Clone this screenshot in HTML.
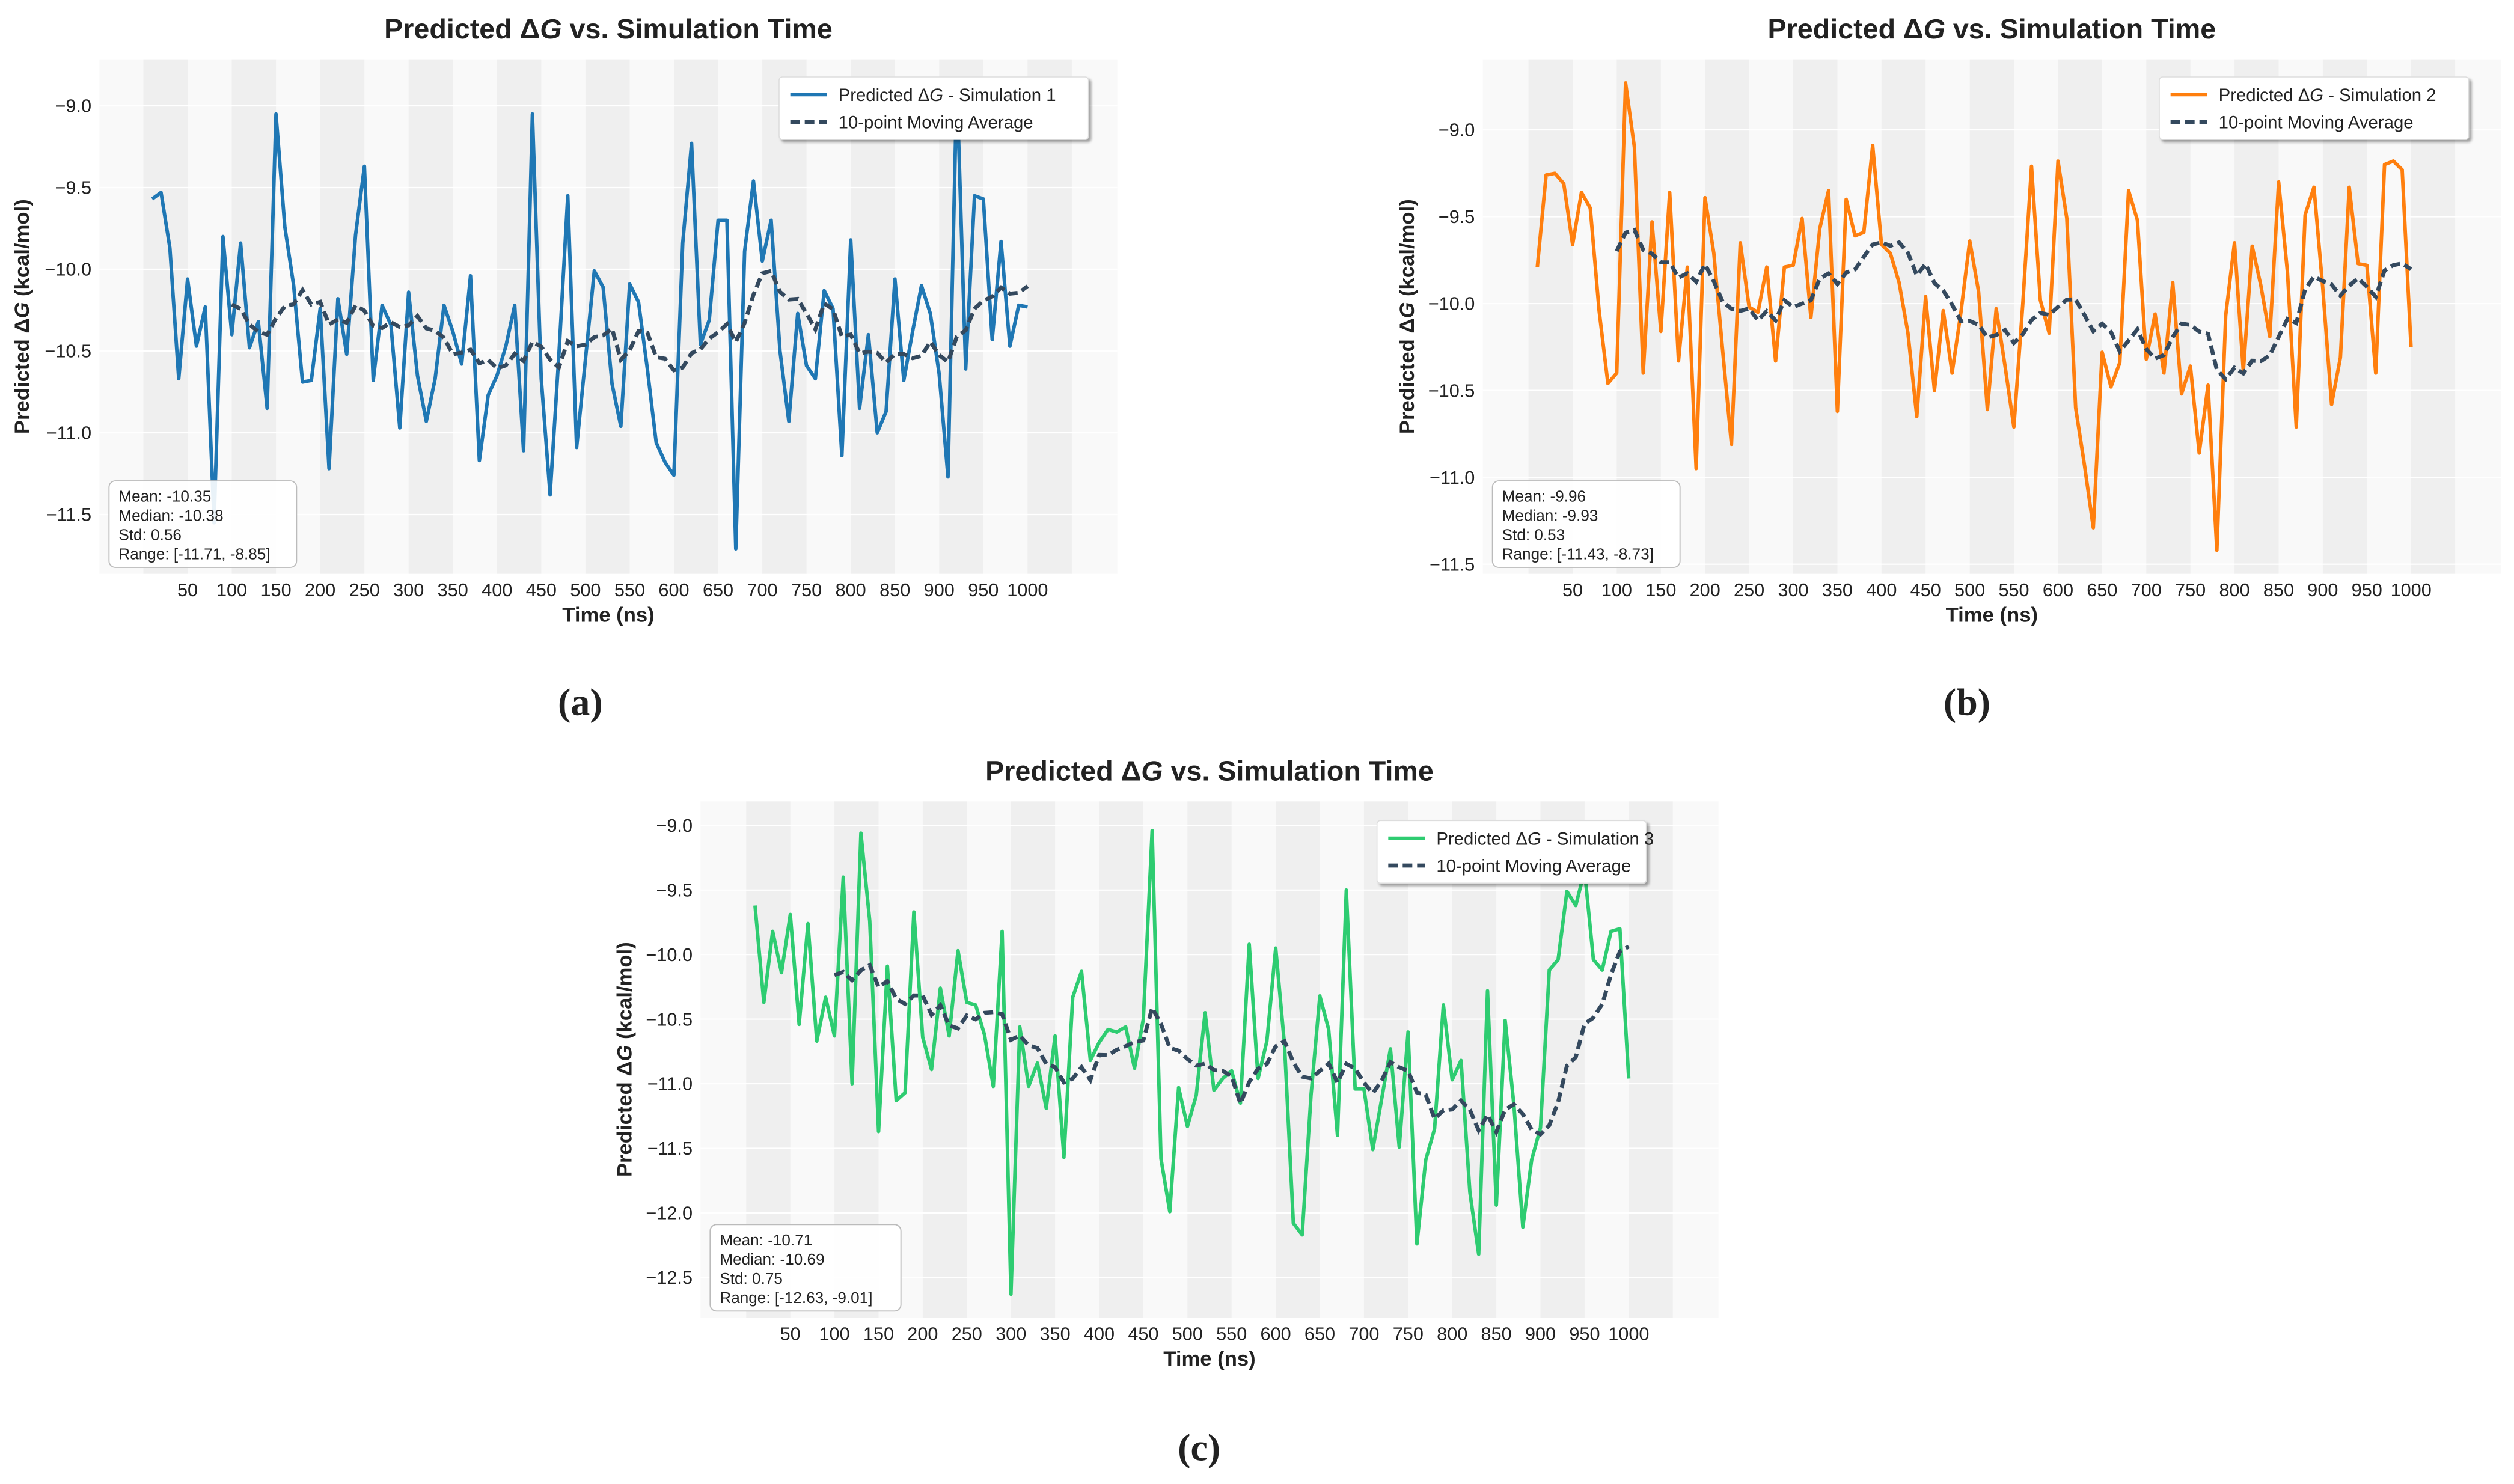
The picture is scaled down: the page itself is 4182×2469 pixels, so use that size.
<!DOCTYPE html>
<html><head><meta charset="utf-8"><style>
html,body{margin:0;padding:0;background:#fff;}
svg{display:block;}
text{font-family:"Liberation Sans",sans-serif;fill:#222;}
</style></head><body>
<svg id="fig" width="4182" height="2469" viewBox="0 0 1568.25 925.875" xmlns="http://www.w3.org/2000/svg">
<defs><filter id="sh" x="-10%" y="-10%" width="130%" height="140%"><feDropShadow dx="1.5" dy="1.5" stdDeviation="0.8" flood-color="#000" flood-opacity="0.35"/></filter></defs>
<text x="362" y="446" font-size="24" font-weight="bold" text-anchor="middle" style="font-family:'Liberation Serif',serif">(a)</text>
<text x="1227" y="446" font-size="24" font-weight="bold" text-anchor="middle" style="font-family:'Liberation Serif',serif">(b)</text>
<text x="748" y="911" font-size="24" font-weight="bold" text-anchor="middle" style="font-family:'Liberation Serif',serif">(c)</text>
</svg>
<script>
const times = [];
for (let i = 1; i <= 100; i++) times.push(i * 10);
const xTickValues = [50,100,150,200,250,300,350,400,450,500,550,600,650,700,750,800,850,900,950,1000];
const sim1 = [-9.57,-9.53,-9.87,-10.67,-10.06,-10.47,-10.23,-11.55,-9.80,-10.40,-9.84,-10.48,-10.32,-10.85,-9.05,-9.74,-10.10,-10.69,-10.68,-10.24,-11.22,-10.18,-10.52,-9.79,-9.37,-10.68,-10.22,-10.34,-10.97,-10.14,-10.65,-10.93,-10.67,-10.22,-10.38,-10.58,-10.04,-11.17,-10.77,-10.65,-10.47,-10.22,-11.11,-9.05,-10.67,-11.38,-10.52,-9.55,-11.09,-10.55,-10.01,-10.11,-10.70,-10.96,-10.09,-10.20,-10.61,-11.06,-11.18,-11.26,-9.84,-9.23,-10.46,-10.31,-9.70,-9.70,-11.71,-9.89,-9.46,-9.95,-9.70,-10.50,-10.93,-10.27,-10.59,-10.67,-10.13,-10.24,-11.14,-9.82,-10.85,-10.40,-11.00,-10.87,-10.06,-10.68,-10.38,-10.10,-10.27,-10.64,-11.27,-8.85,-10.61,-9.55,-9.57,-10.43,-9.83,-10.47,-10.22,-10.23];
const sim2 = [-9.79,-9.26,-9.25,-9.31,-9.66,-9.36,-9.45,-10.04,-10.46,-10.40,-8.73,-9.10,-10.40,-9.53,-10.16,-9.36,-10.33,-9.79,-10.95,-9.39,-9.71,-10.27,-10.81,-9.65,-10.02,-10.05,-9.79,-10.33,-9.79,-9.78,-9.51,-10.08,-9.57,-9.35,-10.62,-9.40,-9.61,-9.59,-9.09,-9.66,-9.71,-9.88,-10.17,-10.65,-9.96,-10.50,-10.04,-10.40,-10.05,-9.64,-9.93,-10.61,-10.03,-10.36,-10.71,-10.01,-9.21,-9.98,-10.17,-9.18,-9.51,-10.60,-10.93,-11.29,-10.28,-10.48,-10.34,-9.35,-9.52,-10.32,-10.06,-10.40,-9.88,-10.52,-10.36,-10.86,-10.47,-11.42,-10.07,-9.65,-10.39,-9.67,-9.90,-10.19,-9.30,-9.82,-10.71,-9.49,-9.33,-9.91,-10.58,-10.31,-9.33,-9.77,-9.78,-10.40,-9.20,-9.18,-9.23,-10.25];
const sim3 = [-9.62,-10.37,-9.82,-10.14,-9.69,-10.54,-9.76,-10.67,-10.33,-10.63,-9.40,-11.00,-9.06,-9.74,-11.37,-10.09,-11.13,-11.07,-9.67,-10.64,-10.89,-10.26,-10.63,-9.97,-10.37,-10.39,-10.62,-11.02,-9.82,-12.63,-10.56,-11.02,-10.84,-11.19,-10.63,-11.57,-10.33,-10.13,-10.82,-10.68,-10.58,-10.60,-10.56,-10.88,-10.50,-9.04,-11.58,-11.99,-11.03,-11.33,-11.09,-10.45,-11.05,-10.96,-10.90,-11.15,-9.92,-10.96,-10.67,-9.95,-10.70,-12.08,-12.17,-11.09,-10.32,-10.58,-11.40,-9.50,-11.04,-11.04,-11.51,-11.12,-10.73,-11.49,-10.60,-12.24,-11.59,-11.35,-10.39,-10.97,-10.82,-11.84,-12.32,-10.28,-11.94,-10.51,-11.17,-12.11,-11.59,-11.34,-10.12,-10.04,-9.51,-9.62,-9.35,-10.04,-10.12,-9.82,-9.80,-10.96];
const yTicks1 = [-9.0,-9.5,-10.0,-10.5,-11.0,-11.5];
const yTicks2 = [-9.0,-9.5,-10.0,-10.5,-11.0,-11.5];
const yTicks3 = [-9.0,-9.5,-10.0,-10.5,-11.0,-11.5,-12.0,-12.5];
const stats1 = ["Mean: -10.35","Median: -10.38","Std: 0.56","Range: [-11.71, -8.85]"];
const stats2 = ["Mean: -9.96","Median: -9.93","Std: 0.53","Range: [-11.43, -8.73]"];
const stats3 = ["Mean: -10.71","Median: -10.69","Std: 0.75","Range: [-12.63, -9.01]"];

const NS = "http://www.w3.org/2000/svg";
const svg = document.getElementById('fig');
function mk(tag, attrs, parent) {
  const e = document.createElementNS(NS, tag);
  for (const k in attrs) e.setAttribute(k, attrs[k]);
  (parent || svg).appendChild(e);
  return e;
}
function movingAvg(arr, w) {
  const out = [];
  for (let i = w - 1; i < arr.length; i++) {
    let s = 0; for (let j = i - w + 1; j <= i; j++) s += arr[j];
    out.push({i: i, v: s / w});
  }
  return out;
}
function drawPanel(c) {
  const g = mk('g', {});
  
  
  const xs = v => c.x50 + (v - 50) * (c.x1000 - c.x50) / 950;
  const ys = v => c.yA + (c.vA - v) * (c.yB - c.yA) / (c.vA - c.vB);
  const bg = mk('rect', {x: c.L, y: c.T, width: c.R - c.L, height: c.B - c.T, fill: '#f9f9f9'}, g);
  
  
  for (let b = 0; b <= 1000; b += 100) {
    const r = mk('rect', {x: xs(b), y: c.T, width: xs(b + 50) - xs(b), height: c.B - c.T, fill: '#efefef'}, g);
    
    
  }
  c.yTicks.forEach(v => {
    const y = ys(v);
    const gl = mk('line', {x1: c.L, x2: c.R, y1: y, y2: y, stroke: '#fff', 'stroke-width': 0.8}, g);
    
    
    const t = mk('text', {x: c.L - 5, y: y + 4, 'font-size': 11.5, 'text-anchor': 'end'}, g);
    t.textContent = v.toFixed(1).replace('-', '\u2212');
    
    
  });
  xTickValues.forEach(v => {
    const t = mk('text', {x: xs(v), y: c.B + 14, 'font-size': 11.5, 'text-anchor': 'middle'}, g);
    t.textContent = String(v);
    
    
  });
  const pts = c.data.map((v, i) => xs(times[i]).toFixed(2) + ',' + ys(v).toFixed(2)).join(' ');
  const line = mk('polyline', {points: pts, fill: 'none', stroke: c.color, 'stroke-width': 2.2, 'stroke-linejoin': 'round'}, g);
  
  
  const ma = movingAvg(c.data, 10);
  const mpts = ma.map(p => xs(times[p.i]).toFixed(2) + ',' + ys(p.v).toFixed(2)).join(' ');
  const mline = mk('polyline', {points: mpts, fill: 'none', stroke: '#34495e', 'stroke-width': 2.5, 'stroke-dasharray': '6,3'}, g);
  
  
  const cx = (c.L + c.R) / 2;
  const title = mk('text', {x: cx, y: c.T - 13, 'font-size': 17.5, 'font-weight': 'bold', 'text-anchor': 'middle'}, g);
  title.innerHTML = 'Predicted \u0394<tspan font-style="italic">G</tspan> vs. Simulation Time';
  
  
  const xl = mk('text', {x: cx, y: c.B + 30, 'font-size': 13, 'font-weight': 'bold', 'text-anchor': 'middle'}, g);
  xl.textContent = 'Time (ns)';
  
  
  const yc = (c.T + c.B) / 2;
  const yl = mk('text', {x: c.ylx, y: yc, 'font-size': 13, 'font-weight': 'bold', 'text-anchor': 'middle', transform: 'rotate(-90 ' + c.ylx + ' ' + yc + ')'}, g);
  yl.innerHTML = 'Predicted \u0394<tspan font-style="italic">G</tspan> (kcal/mol)';
  
  
  const lg = mk('g', {}, g);
  
  
  mk('rect', {x: c.legX, y: c.legY, width: c.legW, height: 39, rx: 2, fill: '#fff', stroke: '#ddd', 'stroke-width': 0.6, filter: 'url(#sh)'}, lg);
  mk('line', {x1: c.legX + 7, x2: c.legX + 30, y1: c.legY + 11, y2: c.legY + 11, stroke: c.color, 'stroke-width': 2.2}, lg);
  mk('line', {x1: c.legX + 7, x2: c.legX + 30, y1: c.legY + 28, y2: c.legY + 28, stroke: '#34495e', 'stroke-width': 2.5, 'stroke-dasharray': '6,3'}, lg);
  const l1 = mk('text', {x: c.legX + 37, y: c.legY + 15, 'font-size': 11}, lg);
  l1.innerHTML = 'Predicted \u0394<tspan font-style="italic">G</tspan> - ' + c.simName;
  
  
  const l2 = mk('text', {x: c.legX + 37, y: c.legY + 32, 'font-size': 11}, lg);
  l2.textContent = '10-point Moving Average';
  
  
  const sb = mk('g', {}, g);
  
  
  mk('rect', {x: c.L + 6, y: c.B - 58, width: c.statW, height: 54, rx: 4, fill: '#fff', 'fill-opacity': 0.9, stroke: '#bbb', 'stroke-width': 0.7}, sb);
  c.stats.forEach((s, i) => {
    const t = mk('text', {x: c.L + 12, y: c.B - 45 + i * 12, 'font-size': 9.8}, sb);
    t.textContent = s;
    
    
  });
}
drawPanel({id:'simulation-1', L:62, R:697, T:37, B:358, x50:117, x1000:641, vA:-9.0, yA:66, vB:-11.5, yB:321,
  yTicks:yTicks1, data:sim1, color:'#1f77b4', simName:'Simulation 1', ylx:18, legX:486, legY:48, legW:193, stats:stats1, statW:117});
drawPanel({id:'simulation-2', L:925, R:1560, T:37, B:358, x50:981, x1000:1504, vA:-9.0, yA:81, vB:-11.5, yB:352,
  yTicks:yTicks2, data:sim2, color:'#ff7f0e', simName:'Simulation 2', ylx:882, legX:1347, legY:48, legW:193, stats:stats2, statW:117});
drawPanel({id:'simulation-3', L:437, R:1072, T:500, B:822, x50:493, x1000:1016, vA:-9.0, yA:515, vB:-12.5, yB:797,
  yTicks:yTicks3, data:sim3, color:'#2ecc71', simName:'Simulation 3', ylx:394, legX:859, legY:512, legW:168, stats:stats3, statW:119});
</script>
</body></html>
